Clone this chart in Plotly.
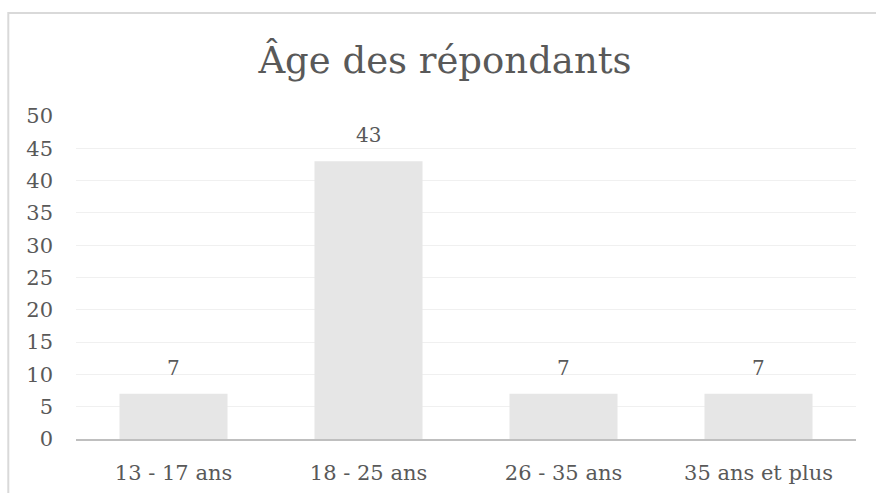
import plotly.graph_objects as go

categories = ["13 - 17 ans", "18 - 25 ans", "26 - 35 ans", "35 ans et plus"]
values = [7, 43, 7, 7]
title_text = "Âge des répondants"
y_ticks = [0, 5, 10, 15, 20, 25, 30, 35, 40, 45, 50]

FONT = "DejaVu Serif"
TXT = "#595959"

W, H = 876, 493

fig = go.Figure()
fig.add_trace(go.Bar(
    x=categories, y=values,
    marker=dict(color="#e6e6e6", line=dict(width=0)),
    hoverinfo="skip",
))

for c, v in zip(categories, values):
    fig.add_annotation(x=c, y=v, text=str(v), showarrow=False,
                       yanchor="bottom", yshift=12,
                       font=dict(family=FONT, size=20, color=TXT))

# plot area in pixels: x 76..856, y 116..439
L, T = 76, 116
R = W - 856
B = H - 439
pw, ph = W - L - R, H - T - B

def px_to_paper_x(px):
    return (px - L) / pw

def px_to_paper_y(py):
    return (H - B - py) / ph

fig.add_shape(type="rect", xref="paper", yref="paper",
              x0=px_to_paper_x(8.3), x1=px_to_paper_x(900),
              y0=px_to_paper_y(520), y1=px_to_paper_y(13),
              line=dict(color="#d9d9d9", width=2), fillcolor="rgba(0,0,0,0)",
              layer="below")

fig.update_layout(
    width=W, height=H,
    margin=dict(l=L, r=R, t=T, b=B, autoexpand=False),
    paper_bgcolor="white", plot_bgcolor="white",
    bargap=0.446,
    showlegend=False,
    title=dict(text=title_text, x=445 / W, xanchor="center",
               y=1 - 60 / H, yanchor="middle", xref="container", yref="container",
               font=dict(family=FONT, size=37, color=TXT)),
    font=dict(family=FONT, color=TXT),
    xaxis=dict(showline=True, linecolor="#bfbfbf", linewidth=2,
               showgrid=False, zeroline=False, ticks="",
               tickfont=dict(family=FONT, size=21, color=TXT),
               ticklabelstandoff=14),
    yaxis=dict(range=[0, 50], tickvals=y_ticks, showgrid=True,
               gridcolor="#f0f0f0", gridwidth=1, zeroline=False,
               showline=False, ticks="",
               tickfont=dict(family=FONT, size=21, color=TXT),
               ticklabelstandoff=22),
)

fig.write_html(
    "out.html",
    config={"displayModeBar": False},
    post_script="document.documentElement.style.overflow='hidden';"
                "document.body.style.margin='0';document.body.style.overflow='hidden';",
)
